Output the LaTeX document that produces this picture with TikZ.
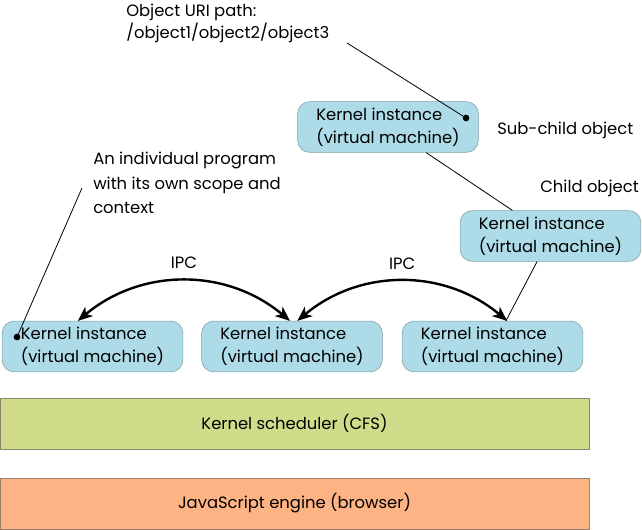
\documentclass[tikz,border=0pt]{standalone}
\usepackage{fontspec}
\setmainfont{Poppins}
\usetikzlibrary{arrows.meta}

\definecolor{kernelfill}{HTML}{ADDCE8}
\definecolor{kerneldraw}{HTML}{7F9CA4}
\definecolor{schedfill}{HTML}{D0DC8A}
\definecolor{scheddraw}{HTML}{888868}
\definecolor{jsfill}{HTML}{FDB384}
\definecolor{jsdraw}{HTML}{9A7F6A}

\tikzset{
  kernel/.style={draw=kerneldraw,fill=kernelfill,rounded corners=9pt,
    minimum width=135.5pt,minimum height=38pt,align=left,inner sep=0pt},
  layer/.style={minimum width=442pt,minimum height=38pt,inner sep=0pt},
  note/.style={align=left,inner sep=0pt,anchor=west},
  dot/.style={circle,fill=black,inner sep=0pt,minimum size=5pt},
  ipc/.style={line width=1.8pt,{Stealth[length=11pt,width=9pt,inset=3pt]}-{Stealth[length=11pt,width=9pt,inset=3pt]}}
}

\begin{document}
\begin{tikzpicture}[x=0.75pt,y=-0.75pt]
\tikzstyle{every node}=[font=\fontsize{12.3pt}{17pt}\selectfont]
\useasboundingbox (0,0) rectangle (642,530);

%
% Draw the two layers at the bottom
%
\node[layer,draw=scheddraw,fill=schedfill] (sched) at (294.5,423.5) {Kernel scheduler (CFS)};
\node[layer,draw=jsdraw,fill=jsfill] (engine) at (294.5,503.5) {JavaScript engine (browser)};

%
% Draw the row of kernel instances
%
\node[kernel] (kernA) at (92.5,346.5) {Kernel instance\\(virtual machine)};
\node[kernel] (kernB) at (292,346.5) {Kernel instance\\(virtual machine)};
\node[kernel] (kernC) at (492.5,346.5) {Kernel instance\\(virtual machine)};

% Child and sub-child objects
\node[kernel] (child) at (550.5,236) {Kernel instance\\(virtual machine)};
\node[kernel] (subchild) at (388,127) {Kernel instance\\(virtual machine)};
\node[note,anchor=east] (childlbl) at (639,188) {Child object};
\node[note] (subchildlbl) at (497,130) {Sub-child object};

\draw[line width=0.6pt] (subchild) -- (child);
\draw[line width=0.6pt] (child) -- (kernC);

%
% Draw the IPC arrows
%
\draw[ipc] ([xshift=-11pt]kernA.north) to[bend left=40]
  node[above=5pt] (ipcA) {IPC} ([xshift=-1.5pt]kernB.north);
\draw[ipc] ([xshift=4pt]kernB.north) to[bend left=40]
  node[above=5pt] (ipcB) {IPC} ([xshift=11pt]kernC.north);

%
% Draw the annotations
%
\node[note,font=\fontsize{12.3pt}{16.5pt}\selectfont] (urilbl) at (126,23)
  {Object URI path:\\/object1/object2/object3};
\coordinate (uriend) at (347,43);
\node[dot] (uridot) at (466,118) {};
\draw[line width=0.6pt] (uriend) -- (uridot);

\node[note,font=\fontsize{12.3pt}{18.5pt}\selectfont] (proglbl) at (93,183)
  {An individual program\\with its own scope and\\context};
\coordinate (progend) at (82,188);
\node[dot] (progdot) at (17,337) {};
\draw[line width=0.6pt] (progend) -- (progdot);

\end{tikzpicture}
\end{document}
